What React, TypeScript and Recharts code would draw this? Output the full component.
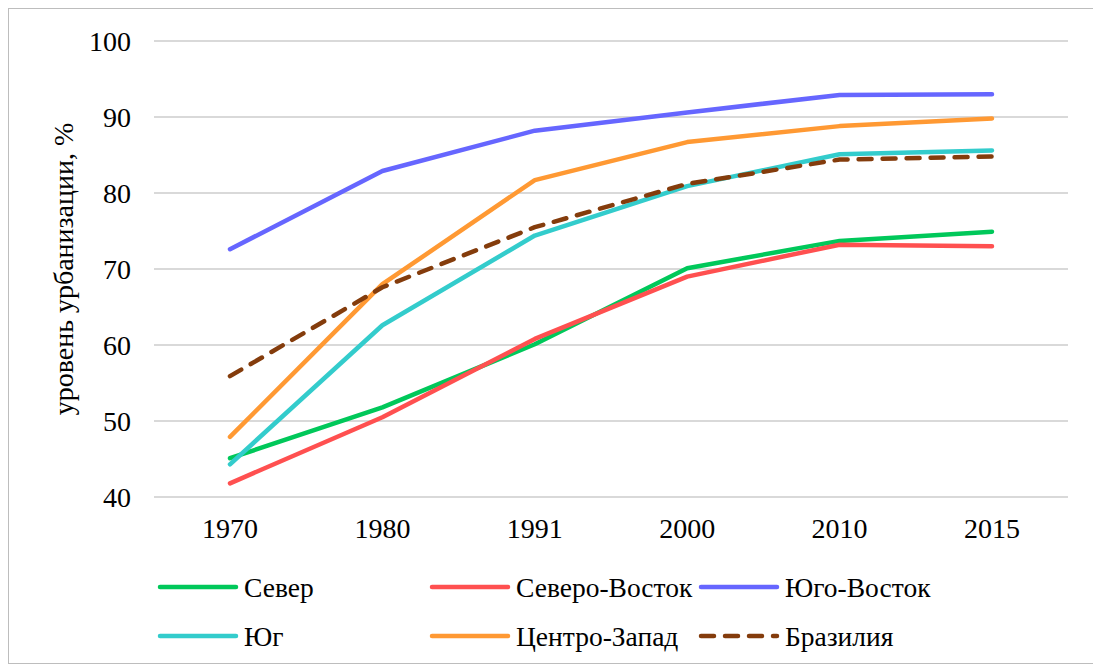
import React from 'react';
import { LineChart, Line, XAxis, YAxis, CartesianGrid, Legend } from 'recharts';

const years = ['1970', '1980', '1991', '2000', '2010', '2015'];
const north = [45.1, 51.8, 60.1, 70.1, 73.7, 74.9];
const northeast = [41.8, 50.5, 60.8, 69.0, 73.2, 73.0];
const southeast = [72.6, 82.9, 88.2, 90.6, 92.9, 93.0];
const south = [44.3, 62.6, 74.4, 80.9, 85.1, 85.6];
const centerWest = [47.9, 68.0, 81.7, 86.7, 88.8, 89.8];
const brazil = [55.9, 67.6, 75.5, 81.2, 84.4, 84.8];
const yTicks = [40, 50, 60, 70, 80, 90, 100];

const seriesNames = ['Север', 'Северо-Восток', 'Юго-Восток', 'Юг', 'Центро-Запад', 'Бразилия'];
const seriesKeys = ['north', 'northeast', 'southeast', 'south', 'centerWest', 'brazil'];
const seriesColors = ['#00C85A', '#FF5050', '#6666FF', '#33CCCC', '#FF9933', '#843C0C'];
const seriesDash = [undefined, undefined, undefined, undefined, undefined, '13 11'];
const yLabel = 'уровень урбанизации, %';

const data = years.map((y, i) => ({
  year: y,
  north: north[i],
  northeast: northeast[i],
  southeast: southeast[i],
  south: south[i],
  centerWest: centerWest[i],
  brazil: brazil[i],
}));

const FONT = '"Liberation Serif", "Times New Roman", serif';
const FS = 28;
const W = 1089;
const H = 654;

const XTick = (props: any) => {
  const { x, y, payload } = props;
  return (
    <text x={x} y={y} dy="0.71em" textAnchor="middle" fontFamily={FONT} fontSize={FS} fill="#000">
      {payload.value}
    </text>
  );
};

const YTick = (props: any) => {
  const { x, y, payload } = props;
  return (
    <text x={x} y={y} dy="0.355em" textAnchor="end" fontFamily={FONT} fontSize={FS} fill="#000">
      {payload.value}
    </text>
  );
};

const YLabel = (props: any) => {
  const vb = props.viewBox || { x: 85, y: 32, width: 60, height: 456 };
  const cx = vb.x - 31;
  const cy = vb.y + vb.height / 2;
  return (
    <text
      x={cx}
      y={cy}
      transform={`rotate(-90 ${cx} ${cy})`}
      textAnchor="middle"
      dominantBaseline="central"
      fontFamily={FONT}
      fontSize={FS}
      fill="#000"
    >
      {yLabel}
    </text>
  );
};

const renderLegend = () => {
  const colX = [151, 423, 692];
  const rowY = [578, 627];
  return (
    <div style={{ position: 'relative', width: 0, height: 0 }}>
      <svg width={W} height={H} style={{ position: 'absolute', left: 0, top: 0, pointerEvents: 'none' }}>
        {seriesNames.map((name, i) => {
          const x = colX[i % 3];
          const y = rowY[Math.floor(i / 3)];
          return (
            <g key={name}>
              <line
                x1={x}
                x2={x + 76}
                y1={y}
                y2={y}
                stroke={seriesColors[i]}
                strokeWidth={4.5}
                strokeLinecap="round"
                strokeDasharray={seriesDash[i]}
              />
              <text x={x + 84} y={y + 9.5} fontFamily={FONT} fontSize={27.5} fill="#000">
                {name}
              </text>
            </g>
          );
        })}
      </svg>
    </div>
  );
};

export default function App() {
  return (
    <div
      style={{
        width: 1091,
        height: 656,
        border: '1px solid #bdbdbd',
        boxSizing: 'border-box',
        background: '#fff',
        fontFamily: FONT,
      }}
    >
      <LineChart
        width={W}
        height={H}
        data={data}
        margin={{ top: 32, right: 30, left: 85, bottom: 126 }}
        style={{ fontFamily: FONT }}
      >
        <CartesianGrid vertical={false} stroke="#d9d9d9" strokeWidth={2} />
        <XAxis
          dataKey="year"
          axisLine={false}
          tickLine={false}
          tickSize={6}
          tickMargin={15}
          height={40}
          padding={{ left: 76, right: 76 }}
          tick={<XTick />}
          interval={0}
        />
        <YAxis
          domain={[40, 100]}
          ticks={yTicks}
          axisLine={false}
          tickLine={false}
          tickSize={6}
          tickMargin={17}
          width={60}
          tick={<YTick />}
          interval={0}
          label={<YLabel />}
        />
        <Legend
          verticalAlign="top"
          content={renderLegend}
          wrapperStyle={{ position: 'absolute', left: 0, top: 0, width: 0, height: 0 }}
        />
        {seriesKeys.map((k, i) => (
          <Line
            key={k}
            dataKey={k}
            name={seriesNames[i]}
            stroke={seriesColors[i]}
            strokeWidth={4.5}
            strokeDasharray={seriesDash[i]}
            strokeLinecap="round"
            strokeLinejoin="round"
            dot={false}
            activeDot={false}
            type="linear"
            isAnimationActive={false}
          />
        ))}
      </LineChart>
    </div>
  );
}
